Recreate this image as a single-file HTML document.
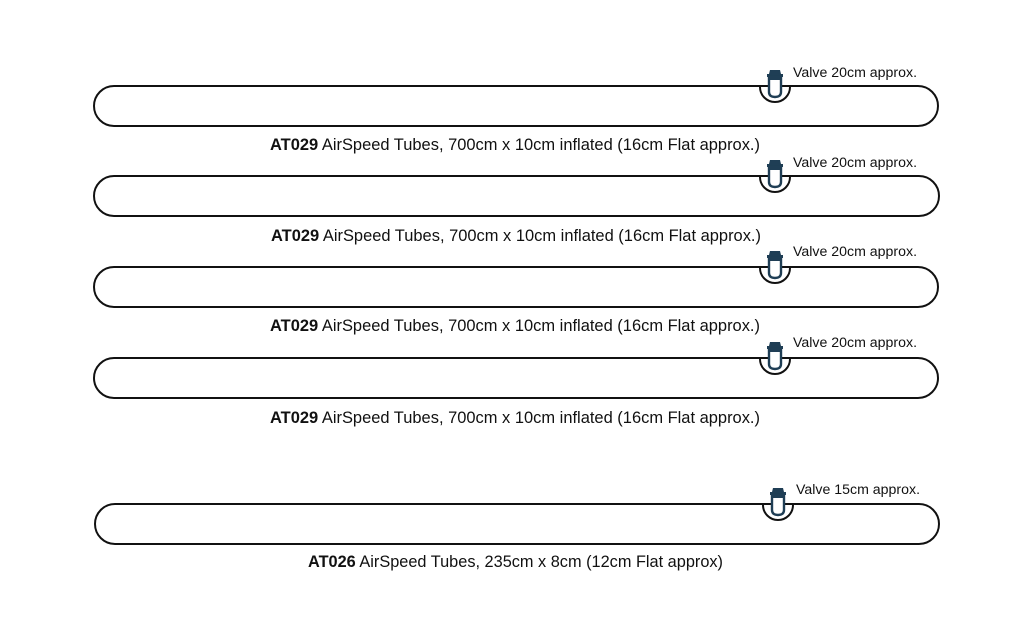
<!DOCTYPE html>
<html><head><style>body{margin:0;background:#fff}svg{display:block}</style></head><body>
<svg width="1017" height="622" xmlns="http://www.w3.org/2000/svg" font-family="Liberation Sans, sans-serif">
<defs>
<g id="valve">
<path d="M-15,0 A15,15 0 0 0 15,0" fill="#fff" stroke="#111" stroke-width="2"/>
<path d="M-5,-17 L5,-17 L6,-13 L-6,-13 Z" fill="#1f3e55"/>
<rect x="-8" y="-13" width="16" height="3" fill="#1f3e55"/>
<path d="M-6,-10 L6,-10 L6,5 Q6,10 0,10 Q-6,10 -6,5 Z" fill="#fff" stroke="#1f3e55" stroke-width="2.4"/>
<rect x="-7" y="-10" width="14" height="3" fill="#1f3e55"/>
</g>
</defs>
<g fill="none" stroke="#111" stroke-width="2">
<path d="M114,86 H918 A20,20 0 0 1 918,126 H114 A20,20 0 0 1 114,86 Z"/>
<path d="M114,176 H919 A20,20 0 0 1 919,216 H114 A20,20 0 0 1 114,176 Z"/>
<path d="M114,267 H918 A20,20 0 0 1 918,307 H114 A20,20 0 0 1 114,267 Z"/>
<path d="M114,358 H918 A20,20 0 0 1 918,398 H114 A20,20 0 0 1 114,358 Z"/>
<path d="M115,504 H919 A20,20 0 0 1 919,544 H115 A20,20 0 0 1 115,504 Z"/>
</g>
<use href="#valve" x="775" y="87"/>
<use href="#valve" x="775" y="177"/>
<use href="#valve" x="775" y="268"/>
<use href="#valve" x="775" y="359"/>
<use href="#valve" x="778" y="505"/>
<g font-size="13.5" fill="#111">
<text x="793" y="77" textLength="124" lengthAdjust="spacingAndGlyphs">Valve 20cm approx.</text>
<text x="793" y="167" textLength="124" lengthAdjust="spacingAndGlyphs">Valve 20cm approx.</text>
<text x="793" y="256" textLength="124" lengthAdjust="spacingAndGlyphs">Valve 20cm approx.</text>
<text x="793" y="347" textLength="124" lengthAdjust="spacingAndGlyphs">Valve 20cm approx.</text>
<text x="796" y="494" textLength="124" lengthAdjust="spacingAndGlyphs">Valve 15cm approx.</text>
</g>
<g font-size="16.5" fill="#111">
<text x="270" y="150" textLength="490" lengthAdjust="spacingAndGlyphs"><tspan font-weight="bold">AT029</tspan> AirSpeed Tubes, 700cm x 10cm inflated (16cm Flat approx.)</text>
<text x="271" y="241" textLength="490" lengthAdjust="spacingAndGlyphs"><tspan font-weight="bold">AT029</tspan> AirSpeed Tubes, 700cm x 10cm inflated (16cm Flat approx.)</text>
<text x="270" y="331" textLength="490" lengthAdjust="spacingAndGlyphs"><tspan font-weight="bold">AT029</tspan> AirSpeed Tubes, 700cm x 10cm inflated (16cm Flat approx.)</text>
<text x="270" y="423" textLength="490" lengthAdjust="spacingAndGlyphs"><tspan font-weight="bold">AT029</tspan> AirSpeed Tubes, 700cm x 10cm inflated (16cm Flat approx.)</text>
<text x="308" y="567" textLength="415" lengthAdjust="spacingAndGlyphs"><tspan font-weight="bold">AT026</tspan> AirSpeed Tubes, 235cm x 8cm (12cm Flat approx)</text>
</g>
</svg>
</body></html>
